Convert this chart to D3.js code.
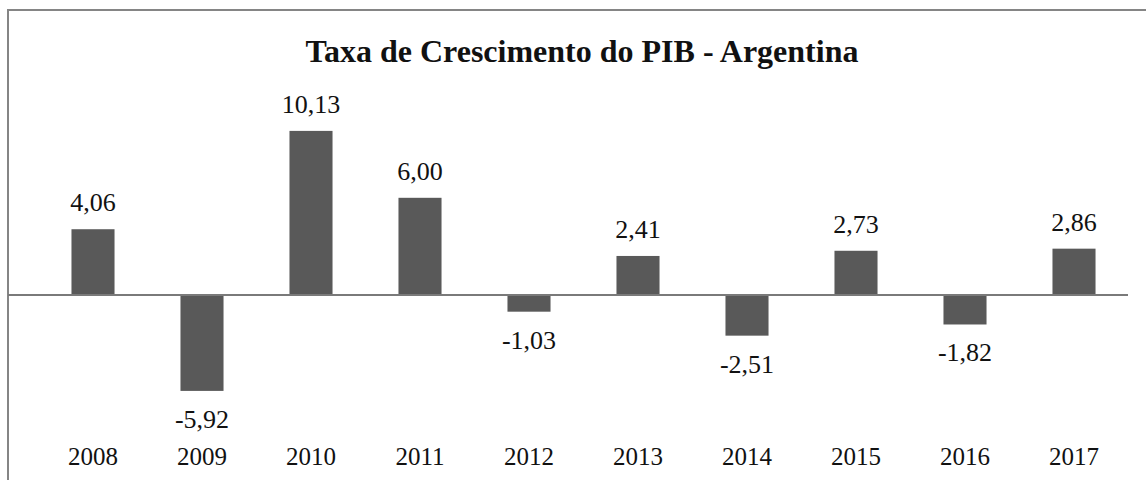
<!DOCTYPE html>
<html>
<head>
<meta charset="utf-8">
<script src="https://cdn.jsdelivr.net/npm/d3@7"></script>
</head>
<body style="margin:0;background:#fff">
<svg width="1146" height="480" style="font-family:'Liberation Serif', Tinos, 'Times New Roman', serif"></svg>
<script>
const anos=['2008','2009','2010','2011','2012','2013','2014','2015','2016','2017'];
const taxas=[4.06,-5.92,10.13,6.00,-1.03,2.41,-2.51,2.73,-1.82,2.86];

const fonte="'Liberation Serif', Tinos, 'Times New Roman', serif";
const svg=d3.select('svg');
const width=+svg.attr('width');

// moldura
svg.append('rect')
  .attr('x',8).attr('y',10)
  .attr('width',width+20).attr('height',500)
  .attr('fill','none').attr('stroke','#858585').attr('stroke-width',2);

const x=d3.scaleBand().domain(anos).range([38.5,1128.5]).paddingInner(0.605).paddingOuter(0.3025);
const y=d3.scaleLinear().domain([-8,12]).range([424.6,100.6]);

svg.append('text')
  .attr('x',582).attr('y',62)
  .attr('text-anchor','middle')
  .attr('fill','#111')
  .style('font-family',fonte).style('font-weight','bold').style('font-size','32px')
  .text('Taxa de Crescimento do PIB - Argentina');

const fmt=v=>d3.format('.2f')(v).replace('.',',').replace('\u2212','-');

svg.selectAll('rect.bar')
  .data(taxas)
  .enter()
  .append('rect')
  .attr('class','bar')
  .attr('x',(d,i)=>x(anos[i]))
  .attr('width',x.bandwidth())
  .attr('y',d=>y(Math.max(0,d)))
  .attr('height',d=>Math.abs(y(d)-y(0)))
  .attr('fill','#595959');

// linha do zero
svg.append('line')
  .attr('x1',8).attr('x2',1128)
  .attr('y1',y(0)).attr('y2',y(0))
  .attr('stroke','#7a7a7a').attr('stroke-width',2);

svg.selectAll('text.val')
  .data(taxas)
  .enter()
  .append('text')
  .attr('class','val')
  .attr('x',(d,i)=>x(anos[i])+x.bandwidth()/2)
  .attr('y',d=>d>=0 ? y(d)-18 : y(d)+37)
  .attr('text-anchor','middle')
  .attr('fill','#111')
  .style('font-family',fonte).style('font-size','26px')
  .text(d=>fmt(d));

const xAxis=d3.axisBottom(x).tickSize(0).tickPadding(0);
const gx=svg.append('g').attr('transform','translate(0,465)').call(xAxis)
  .attr('font-family',null);
gx.select('.domain').remove();
gx.selectAll('text')
  .attr('dy',0)
  .attr('y',0)
  .attr('fill','#111')
  .style('font-family',fonte).style('font-size','25px');
</script>
</body>
</html>
